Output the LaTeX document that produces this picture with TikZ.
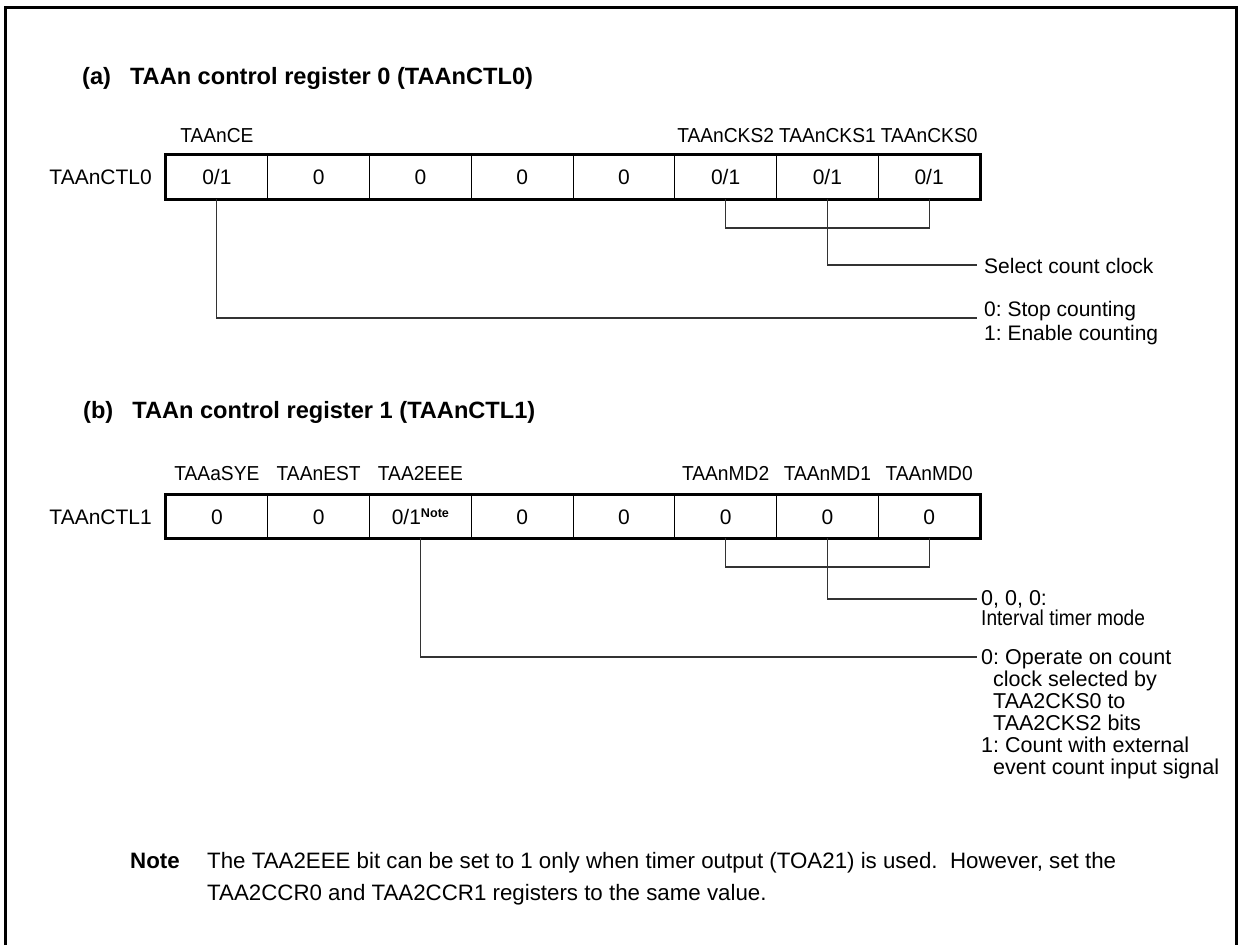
\documentclass[tikz,border=0pt]{standalone}
\usepackage{fontspec}
\setmainfont{Liberation Sans}
\usepackage{graphicx}
\newcommand{\bitname}[1]{\scalebox{0.95}[1]{#1}}
\begin{document}
\frenchspacing
\begin{tikzpicture}[x=1pt,y=-1pt,
  txt/.style={inner sep=0pt, text height=15pt, text depth=0pt, font=\fontsize{21pt}{22pt}\selectfont},
  txtb/.style={inner sep=0pt, text height=15.4pt, text depth=0pt, font=\fontsize{21.5pt}{22pt}\selectfont},
  bitlbl/.style={inner sep=0pt, text height=14.5pt, text depth=0pt, font=\fontsize{20.2pt}{21pt}\selectfont},
  cell/.style={draw, line width=0.9pt, minimum width=101.75pt, inner sep=0pt, text height=15pt, text depth=0pt, font=\fontsize{21pt}{22pt}\selectfont},
  cellA/.style={cell, minimum height=44pt},
  cellB/.style={cell, minimum height=43pt},
  regbox/.style={draw, line width=2.2pt},
  title/.style={anchor=west, inner sep=0pt, text height=17pt, text depth=0pt, font=\bfseries\fontsize{23.6pt}{24pt}\selectfont},
  conn/.style={line width=1.1pt, draw=black!80},
  desc/.style={txt, anchor=west},
  descb/.style={txtb, anchor=west},
  notetxt/.style={anchor=west, inner sep=0pt, text height=16pt, text depth=0pt, font=\fontsize{22.3pt}{23pt}\selectfont},
]
\useasboundingbox (0,0) rectangle (1242,945);
% outer frame (open at the bottom)
\draw[line width=3pt] (5,945) -- (5,7) -- (1236,7) -- (1236,945);

% ---------- (a) ----------
\node[title] (ta) at (82,76) {(a)\hspace{19pt}TAAn control register 0 (TAAnCTL0)};

\node[bitlbl] (lce)   at (216.875,135) {\bitname{TAAnCE}};
\node[bitlbl] (lcks2) at (725.625,135) {\bitname{TAAnCKS2}};
\node[bitlbl] (lcks1) at (827.375,135) {\bitname{TAAnCKS1}};
\node[bitlbl] (lcks0) at (929.125,135) {\bitname{TAAnCKS0}};

\node[txt, anchor=east] (ra) at (152,177) {TAAnCTL0};

\node[cellA] (a0) at (216.875,177) {0/1};
\node[cellA] (a1) at (318.625,177) {0};
\node[cellA] (a2) at (420.375,177) {0};
\node[cellA] (a3) at (522.125,177) {0};
\node[cellA] (a4) at (623.875,177) {0};
\node[cellA] (a5) at (725.625,177) {0/1};
\node[cellA] (a6) at (827.375,177) {0/1};
\node[cellA] (a7) at (929.125,177) {0/1};
\draw[regbox] (a0.north west) rectangle (a7.south east);

\coordinate (brA) at (929.125,228);
\coordinate (clkE) at (977,265);
\coordinate (ceE) at (977,318);
\draw[conn] (a5.south) |- (brA) -- (a7.south);
\draw[conn] (a6.south) |- (clkE);
\draw[conn] (a0.south) |- (ceE);

\node[desc] (dclk) at (984,266) {Select count clock};
\node[desc] (dce0) at (984,309) {0: Stop counting};
\node[desc] (dce1) at (984,333) {1: Enable counting};

% ---------- (b) ----------
\node[title] (tb) at (83,410) {(b)\hspace{19pt}TAAn control register 1 (TAAnCTL1)};

\node[bitlbl] (lsye) at (216.875,473) {\bitname{TAAaSYE}};
\node[bitlbl] (lest) at (318.625,473) {\bitname{TAAnEST}};
\node[bitlbl] (leee) at (420.375,473) {\bitname{TAA2EEE}};
\node[bitlbl] (lmd2) at (725.625,473) {\bitname{TAAnMD2}};
\node[bitlbl] (lmd1) at (827.375,473) {\bitname{TAAnMD1}};
\node[bitlbl] (lmd0) at (929.125,473) {\bitname{TAAnMD0}};

\node[txt, anchor=east] (rb) at (152,516.5) {TAAnCTL1};

\node[cellB] (b0) at (216.875,516.5) {0};
\node[cellB] (b1) at (318.625,516.5) {0};
\node[cellB] (b2) at (420.375,516.5) {0/1\raisebox{7pt}{\bfseries\fontsize{12.6pt}{13pt}\selectfont Note}};
\node[cellB] (b3) at (522.125,516.5) {0};
\node[cellB] (b4) at (623.875,516.5) {0};
\node[cellB] (b5) at (725.625,516.5) {0};
\node[cellB] (b6) at (827.375,516.5) {0};
\node[cellB] (b7) at (929.125,516.5) {0};
\draw[regbox] (b0.north west) rectangle (b7.south east);

\coordinate (brB) at (929.125,567);
\coordinate (mdE) at (977,599);
\coordinate (eeeE) at (977,657);
\draw[conn] (b5.south) |- (brB) -- (b7.south);
\draw[conn] (b6.south) |- (mdE);
\draw[conn] (b2.south) |- (eeeE);

\node[descb] (dmd0) at (981,598) {0, 0, 0:};
\node[descb] (dmd1) at (981,618) {\scalebox{0.89}[1]{Interval timer mode}};
\node[descb] (de0) at (981,657) {0: Operate on count};
\node[descb] (de1) at (993,679) {clock selected by};
\node[descb] (de2) at (993,701) {TAA2CKS0 to};
\node[descb] (de3) at (993,723) {TAA2CKS2 bits};
\node[descb] (de4) at (981,745) {1: Count with external};
\node[descb] (de5) at (993,767) {event count input signal};

% ---------- Note ----------
\node[notetxt, font=\bfseries\fontsize{22.3pt}{23pt}\selectfont] (nlbl) at (130,860) {Note};
\node[notetxt] (n1) at (207,860) {The TAA2EEE bit can be set to 1 only when timer output (TOA21) is used.\ \ However, set the};
\node[notetxt] (n2) at (207,892) {TAA2CCR0 and TAA2CCR1 registers to the same value.};
\end{tikzpicture}
\end{document}
